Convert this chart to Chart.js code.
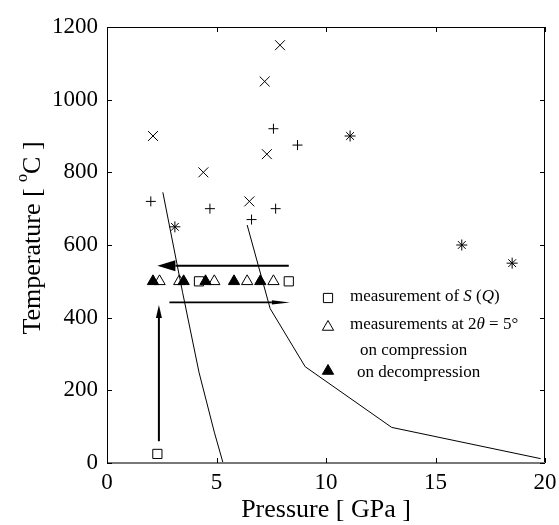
<!DOCTYPE html>
<html>
<head>
<meta charset="utf-8">
<script src="https://cdn.jsdelivr.net/npm/chart.js@4.4.0/dist/chart.umd.min.js"></script>
<style>
  html, body { margin: 0; padding: 0; background: #fff; }
  #wrap { width: 559px; height: 525px; }
</style>
</head>
<body>
<div id="wrap"><canvas id="c" width="559" height="525"></canvas></div>
<script>
const xTicks = [0, 5, 10, 15, 20];
const yTicks = [0, 200, 400, 600, 800, 1000, 1200];

// earlier runs, drawn as + , x and star
const plusX = [2.0, 4.7, 6.6, 7.6, 7.7, 8.7];
const plusY = [720, 700, 670, 920, 700, 875];
const crossX = [2.1, 4.4, 6.5, 7.2, 7.3, 7.9];
const crossY = [900, 800, 720, 1050, 850, 1150];
const starX = [3.1, 11.1, 16.2, 18.5];
const starY = [650, 900, 600, 550];

// this work
const squareX = [2.3, 4.2, 8.3];
const squareY = [25, 500, 500];
const openTriX = [2.4, 3.3, 4.9, 6.4, 7.6];
const openTriY = [500, 500, 500, 500, 500];
const fillTriX = [2.1, 3.5, 4.5, 5.8, 7.0];
const fillTriY = [500, 500, 500, 500, 500];

// boundary curves
const curve1X = [2.55, 3.45, 4.2, 4.9, 5.3];
const curve1Y = [745, 470, 250, 85, 0];
const curve2X = [6.4, 7.45, 9.05, 13.0, 19.8];
const curve2Y = [655, 425, 265, 98, 12];

// arrows [xTail, yTail, xHead, yHead]
const arrowDecomp = [8.3, 543, 2.3, 543];
const arrowComp = [2.85, 442, 8.35, 442];
const arrowHeat = [2.37, 60, 2.37, 435];

const legendLabels = ["measurement of ", "measurements at 2", "on compression", "on decompression"];

const FONT = "'Liberation Serif', 'Times New Roman', serif";

function pts(xs, ys) { return xs.map((x, i) => ({ x: x, y: ys[i] })); }

function markerSet(xs, ys, style, radius, fill) {
    return {
        type: 'scatter', data: pts(xs, ys), pointStyle: style, pointRadius: radius,
        pointBorderColor: '#000', pointBackgroundColor: fill, pointBorderWidth: 1, showLine: false
    };
}

function curveSet(xs, ys) {
    return {
        type: 'line', data: pts(xs, ys), borderColor: '#000', borderWidth: 1,
        pointRadius: 0, fill: false, tension: 0
    };
}

function drawArrow(ctx, xs, ys, a, lw, headLen, headHalf) {
    const x0 = xs.getPixelForValue(a[0]), y0 = ys.getPixelForValue(a[1]);
    const x1 = xs.getPixelForValue(a[2]), y1 = ys.getPixelForValue(a[3]);
    const ang = Math.atan2(y1 - y0, x1 - x0);
    const bx = x1 - Math.cos(ang) * headLen, by = y1 - Math.sin(ang) * headLen;
    ctx.save();
    ctx.strokeStyle = '#000';
    ctx.fillStyle = '#000';
    ctx.lineWidth = lw;
    ctx.beginPath();
    ctx.moveTo(x0, y0);
    ctx.lineTo(bx, by);
    ctx.stroke();
    ctx.beginPath();
    ctx.moveTo(x1, y1);
    ctx.lineTo(bx + Math.sin(ang) * headHalf, by - Math.cos(ang) * headHalf);
    ctx.lineTo(bx - Math.sin(ang) * headHalf, by + Math.cos(ang) * headHalf);
    ctx.closePath();
    ctx.fill();
    ctx.restore();
}

// text pieces: [text, italic, size, dy]
function drawRich(ctx, x, y, parts, size) {
    let cx = x;
    parts.forEach(p => {
        const s = p[2] || size;
        ctx.font = (p[1] ? 'italic ' : '') + s + 'px ' + FONT;
        ctx.fillText(p[0], cx, y + (p[3] || 0));
        cx += ctx.measureText(p[0]).width;
    });
    return cx;
}

const framePlugin = {
    id: 'frame',
    afterDatasetsDraw(chart) {
        const ctx = chart.ctx, a = chart.chartArea;
        const xs = chart.scales.x, ys = chart.scales.y;

        drawArrow(ctx, xs, ys, arrowDecomp, 2, 18, 5.5);
        drawArrow(ctx, xs, ys, arrowComp, 1.8, 18, 2.2);
        drawArrow(ctx, xs, ys, arrowHeat, 2, 13, 3);

        ctx.save();
        // box
        ctx.strokeStyle = '#000';
        ctx.lineWidth = 1;
        ctx.beginPath();
        ctx.moveTo(a.left + 0.5, a.bottom);
        ctx.lineTo(a.left + 0.5, a.top + 0.5);
        ctx.lineTo(a.right - 0.5, a.top + 0.5);
        ctx.lineTo(a.right - 0.5, a.bottom);
        ctx.stroke();
        ctx.strokeStyle = '#777';
        ctx.lineWidth = 2;
        ctx.beginPath();
        ctx.moveTo(a.left, a.bottom);
        ctx.lineTo(a.right, a.bottom);
        ctx.stroke();
        // inward ticks
        ctx.strokeStyle = '#000';
        ctx.lineWidth = 1;
        const tl = 5;
        xTicks.forEach(v => {
            const px = Math.round(xs.getPixelForValue(v)) + 0.5;
            ctx.beginPath();
            ctx.moveTo(px, a.bottom); ctx.lineTo(px, a.bottom - tl);
            ctx.moveTo(px, a.top); ctx.lineTo(px, a.top + tl);
            ctx.stroke();
        });
        yTicks.forEach(v => {
            const py = Math.round(ys.getPixelForValue(v)) + 0.5;
            ctx.beginPath();
            ctx.moveTo(a.left, py); ctx.lineTo(a.left + tl, py);
            ctx.moveTo(a.right, py); ctx.lineTo(a.right - tl, py);
            ctx.stroke();
        });
        ctx.restore();
    },
    afterDraw(chart) {
        const ctx = chart.ctx, a = chart.chartArea;
        const draw = Chart.helpers.drawPoint;
        ctx.save();
        ctx.fillStyle = '#000';
        ctx.textBaseline = 'middle';
        ctx.textAlign = 'left';

        // legend
        const lx = 328, tx = 350, ls = 17;
        ctx.strokeStyle = '#000';
        ctx.lineWidth = 1;
        ctx.fillStyle = '#fff';
        draw(ctx, { pointStyle: 'rect', radius: 6.5, borderWidth: 1 }, lx, 298);
        draw(ctx, { pointStyle: 'triangle', radius: 6.5, borderWidth: 1 }, lx, 327);
        ctx.fillStyle = '#000';
        draw(ctx, { pointStyle: 'triangle', radius: 6.5, borderWidth: 1 }, lx, 371);

        drawRich(ctx, tx, 297, [[legendLabels[0]], ['S', true], [' ('], ['Q', true], [')']], ls);
        drawRich(ctx, tx, 325, [[legendLabels[1]], ['\u03B8', true], [' = 5\u00B0']], ls);
        drawRich(ctx, 360, 351, [[legendLabels[2]]], ls);
        drawRich(ctx, 357, 373, [[legendLabels[3]]], ls);

        // axis titles
        ctx.font = '26px ' + FONT;
        ctx.textAlign = 'center';
        ctx.fillText('Pressure [ GPa ]', (a.left + a.right) / 2, 510);

        ctx.translate(33, 238);
        ctx.rotate(-Math.PI / 2);
        const parts = [['Temperature [ ', false, 26], ['o', false, 16, -10], ['C ]', false, 26]];
        let w = 0;
        parts.forEach(p => { ctx.font = p[2] + 'px ' + FONT; w += ctx.measureText(p[0]).width; });
        ctx.textAlign = 'left';
        drawRich(ctx, -w / 2, 0, parts, 26);
        ctx.restore();
    }
};

new Chart(document.getElementById('c').getContext('2d'), {
    type: 'scatter',
    data: {
        datasets: [
            curveSet(curve1X, curve1Y),
            curveSet(curve2X, curve2Y),
            markerSet(fillTriX, fillTriY, 'triangle', 6.5, '#000'),
            markerSet(openTriX, openTriY, 'triangle', 6.5, '#fff'),
            markerSet(squareX, squareY, 'rect', 6.5, '#fff'),
            markerSet(plusX, plusY, 'cross', 5, '#000'),
            markerSet(crossX, crossY, 'crossRot', 7, '#000'),
            markerSet(starX, starY, 'star', 5.5, '#000')
        ]
    },
    options: {
        responsive: false,
        animation: false,
        layout: { padding: { left: 0, right: 14, top: 27, bottom: 0 } },
        plugins: { legend: { display: false }, tooltip: { enabled: false } },
        scales: {
            x: {
                type: 'linear', min: 0, max: 20,
                afterBuildTicks: s => { s.ticks = xTicks.map(v => ({ value: v })); },
                afterFit: s => { s.height = 62; s.paddingLeft = 0; s.paddingRight = 0; },
                grid: { display: false, drawTicks: false },
                border: { display: false },
                ticks: { padding: 6, color: '#000', maxRotation: 0, callback: v => String(v), font: { family: FONT, size: 23 } }
            },
            y: {
                type: 'linear', min: 0, max: 1200,
                afterBuildTicks: s => { s.ticks = yTicks.map(v => ({ value: v })); },
                afterFit: s => { s.width = 107; s.paddingTop = 0; s.paddingBottom = 0; },
                grid: { display: false, drawTicks: false },
                border: { display: false },
                ticks: { padding: 9, color: '#000', callback: v => String(v), font: { family: FONT, size: 23 } }
            }
        }
    },
    plugins: [framePlugin]
});
</script>
</body>
</html>
